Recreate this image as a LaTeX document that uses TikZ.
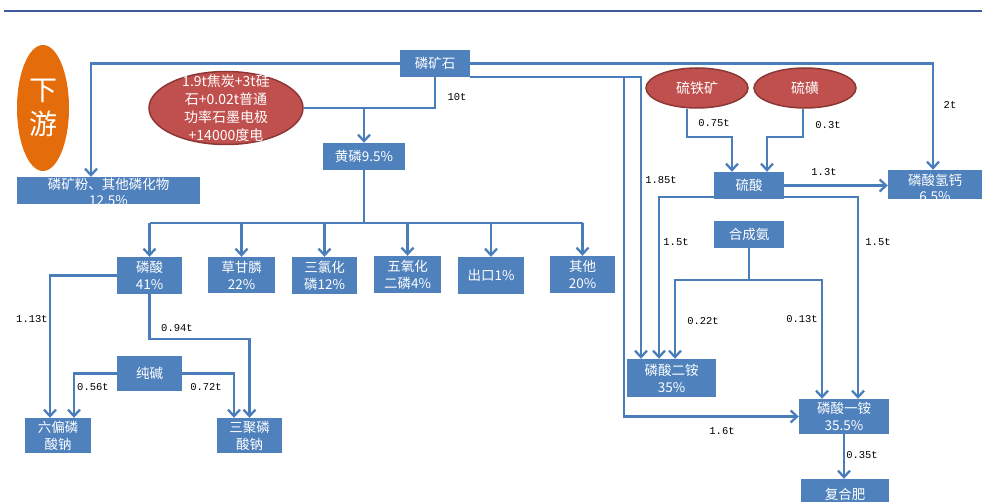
\documentclass[tikz,border=0pt]{standalone}
\usepackage{fontspec}
\newfontfamily\cjk{Noto Sans CJK SC}
\newfontfamily\lblfont{Liberation Mono}
\usetikzlibrary{arrows.meta,shapes.geometric,calc}
\definecolor{boxblue}{HTML}{4F81BD}
\definecolor{lineblue}{HTML}{4A7EBB}
\definecolor{ellred}{HTML}{C0504D}
\definecolor{ellborder}{HTML}{8C3836}
\definecolor{orng}{HTML}{E46C0A}
\definecolor{topblue}{HTML}{3F5A9A}
\begin{document}
\begin{tikzpicture}[x=1pt,y=-1pt,
 box/.style={rectangle,fill=boxblue,draw=none,inner sep=0pt,text=white,font=\cjk\fontsize{13.5}{17}\selectfont,align=center},
 boxtext/.style={inner sep=0pt,text=white,font=\cjk\fontsize{13.5}{16}\selectfont,align=center},
 redell/.style={ellipse,fill=ellred,draw=ellborder,line width=1.5pt,inner sep=0pt,text=white,font=\cjk\fontsize{14}{18}\selectfont,align=center},
 elltext/.style={inner sep=0pt,text=white,font=\cjk\fontsize{14}{18}\selectfont,align=center},
 conn/.style={draw=lineblue,line width=2.3pt},
 arr/.style={conn,-{Straight Barb[length=6.5pt,width=12pt]}},
 lbl/.style={inner sep=0pt,font=\lblfont\fontsize{10.5}{12}\selectfont,text=black}
]
\useasboundingbox (0,0) rectangle (982,502);
\draw[topblue,line width=2pt] (4,11) -- (982,11);

% ellipses
\node[ellipse,fill=orng,draw=none,minimum width=52pt,minimum height=126pt,inner sep=0pt,text=white,font=\cjk\fontsize{28}{34}\selectfont,align=center] (xy) at (43,108) {下\\游};
\node[redell,minimum width=154pt,minimum height=73pt] (red) at (226,108) {};
\node[elltext] (redtxt) at (226,108) {1.9t焦炭+3t硅\\石+0.02t普通\\功率石墨电极\\+14000度电};
\node[redell,minimum width=102pt,minimum height=40pt] (stk) at (697,88) {硫铁矿};
\node[redell,minimum width=102pt,minimum height=40pt] (sh) at (805,88) {硫磺};

% boxes
\node[box,minimum width=70pt,minimum height=27pt] (lks) at (435,63.5) {磷矿石};
\node[box,minimum width=82pt,minimum height=27pt] (hl) at (364,156.5) {黄磷9.5\%};
\node[box,minimum width=183pt,minimum height=27pt] (lkf) at (108.5,190.5) {};
\node[boxtext] (lkftxt) at (108.5,192) {磷矿粉、其他磷化物\\12.5\%};
\node[box,minimum width=65pt,minimum height=37pt] (ls) at (149.5,275.5) {磷酸\\41\%};
\node[box,minimum width=67pt,minimum height=36pt] (cgl) at (241.5,275) {草甘膦\\22\%};
\node[box,minimum width=65pt,minimum height=37pt] (slh) at (324.5,275.5) {三氯化\\磷12\%};
\node[box,minimum width=67pt,minimum height=37pt] (wyh) at (407.5,274.5) {五氧化\\二磷4\%};
\node[box,minimum width=66pt,minimum height=37pt] (ck) at (491,275.5) {出口1\%};
\node[box,minimum width=65pt,minimum height=37pt] (qt) at (582.5,274.5) {其他\\20\%};
\node[box,minimum width=65pt,minimum height=35pt] (cj) at (149.5,373.5) {纯碱};
\node[box,minimum width=66pt,minimum height=35pt] (lp) at (58,435.5) {六偏磷\\酸钠};
\node[box,minimum width=65pt,minimum height=35pt] (sj) at (249.5,435.5) {三聚磷\\酸钠};
\node[box,minimum width=70pt,minimum height=27pt] (ls2) at (749,185.5) {硫酸};
\node[box,minimum width=94pt,minimum height=29pt] (lsqg) at (935,184.5) {};
\node[boxtext] (lsqgtxt) at (935,188) {磷酸氢钙\\6.5\%};
\node[box,minimum width=70pt,minimum height=27pt] (hca) at (749,234.5) {合成氨};
\node[box,minimum width=89pt,minimum height=38pt] (ea) at (671.5,378) {磷酸二铵\\35\%};
\node[box,minimum width=90pt,minimum height=35pt] (yiA) at (844,416.5) {磷酸一铵\\35.5\%};
\node[box,minimum width=88pt,minimum height=31pt] (fhf) at (845,494.5) {复合肥};

% connectors left
\draw[arr] (lks.west) -| ([xshift=-17.5pt]lkf.north);
\draw[conn] (lks.south) |- (red.east);
\draw[arr] (hl.north |- red.east) -- (hl.north);
\coordinate (bus) at (364,223);
\draw[conn] (hl.south) -- (bus);
\draw[conn] (ls.north |- bus) -- (qt.north |- bus);
\foreach \n in {ls,cgl,slh,wyh,ck,qt} \draw[arr] (\n.north |- bus) -- (\n.north);
\draw[arr] (ls.west) -| ([xshift=-8pt]lp.north);
\draw[arr] (ls.south) -- ++(0,45) -| (sj.north);
\draw[arr] (cj.west) -| ([xshift=16pt]lp.north);
\draw[arr] (cj.east) -| ([xshift=-15.5pt]sj.north);

% connectors right
\draw[arr] (lks.east) -| ([xshift=-2pt]lsqg.north);
\draw[arr] (lks.south east) -| ([xshift=-30.5pt]ea.north);
\draw[arr] (lks.south east) -| ([xshift=-175pt]yiA.west) -- (yiA.west);
\draw[arr] ([xshift=-10pt]stk.south) -- ++(0,28) -| ([xshift=-17pt]ls2.north);
\draw[arr] ([xshift=-2pt]sh.south) -- ++(0,28) -| ([xshift=18pt]ls2.north);
\draw[arr] (ls2.east) -- (ls2.east -| lsqg.west);
\draw[arr] ([yshift=2pt]ls2.south west) -| ([xshift=-12.5pt]ea.north);
\draw[arr] ([yshift=2pt]ls2.south east) -| ([xshift=14pt]yiA.north);
\coordinate (hb) at (749,280);
\draw[conn] (hca.south) -- (hb);
\draw[arr] (hb) -| ([xshift=3.5pt]ea.north);
\draw[arr] (hb) -| ([xshift=-22pt]yiA.north);
\draw[arr] (yiA.south) -- (yiA.south |- fhf.north);

% labels
\node[lbl] (t10) at (457,97) {10t};
\node[lbl] (t2) at (950,105) {2t};
\node[lbl] (t075) at (714,123) {0.75t};
\node[lbl] (t03) at (828,125) {0.3t};
\node[lbl] (t185) at (661,180) {1.85t};
\node[lbl] (t13) at (824,172) {1.3t};
\node[lbl] (t15a) at (676,242) {1.5t};
\node[lbl] (t15b) at (878,242) {1.5t};
\node[lbl] (t022) at (703,321) {0.22t};
\node[lbl] (t013) at (802,319) {0.13t};
\node[lbl] (t16) at (722,431) {1.6t};
\node[lbl] (t035) at (862,455) {0.35t};
\node[lbl] (t113) at (32,319) {1.13t};
\node[lbl] (t094) at (177,328) {0.94t};
\node[lbl] (t056) at (93,387) {0.56t};
\node[lbl] (t072) at (206,387) {0.72t};
\end{tikzpicture}
\end{document}
